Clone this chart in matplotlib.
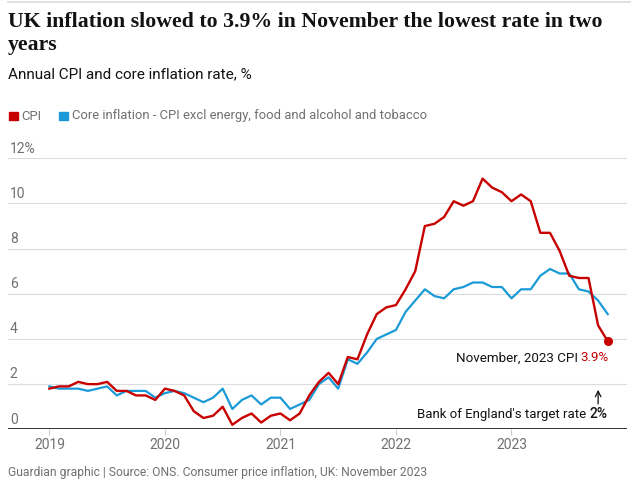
import matplotlib.pyplot as plt
from matplotlib.patches import Rectangle
from matplotlib.lines import Line2D

# monthly data, Jan 2019 - Nov 2023
years = ['2019', '2020', '2021', '2022', '2023']
cpi = [1.8, 1.9, 1.9, 2.1, 2.0, 2.0, 2.1, 1.7, 1.7, 1.5, 1.5, 1.3,
       1.8, 1.7, 1.5, 0.8, 0.5, 0.6, 1.0, 0.2, 0.5, 0.7, 0.3, 0.6,
       0.7, 0.4, 0.7, 1.5, 2.1, 2.5, 2.0, 3.2, 3.1, 4.2, 5.1, 5.4,
       5.5, 6.2, 7.0, 9.0, 9.1, 9.4, 10.1, 9.9, 10.1, 11.1, 10.7, 10.5,
       10.1, 10.4, 10.1, 8.7, 8.7, 7.9, 6.8, 6.7, 6.7, 4.6, 3.9]
core = [1.9, 1.8, 1.8, 1.8, 1.7, 1.8, 1.9, 1.5, 1.7, 1.7, 1.7, 1.4,
        1.6, 1.7, 1.6, 1.4, 1.2, 1.4, 1.8, 0.9, 1.3, 1.5, 1.1, 1.4,
        1.4, 0.9, 1.1, 1.3, 2.0, 2.3, 1.8, 3.1, 2.9, 3.4, 4.0, 4.2,
        4.4, 5.2, 5.7, 6.2, 5.9, 5.8, 6.2, 6.3, 6.5, 6.5, 6.3, 6.3,
        5.8, 6.2, 6.2, 6.8, 7.1, 6.9, 6.9, 6.2, 6.1, 5.7, 5.1]
yticks = [0, 2, 4, 6, 8, 10, 12]
months = list(range(len(cpi)))

RED = '#c70000'
BLUE = '#1a9ad6'
GREY = '#707070'
DARK = '#121212'
SANS = ['Roboto', 'DejaVu Sans']

W, H = 635, 487
fig = plt.figure(figsize=(W / 100, H / 100), dpi=100)

# axes placed so that 0 sits at y=429 and 12 at y=158 (pixels from top)
ax = fig.add_axes([8 / W, (H - 429.3) / H, (627 - 8) / W, (429.3 - 158.3) / H])
ax.set_xlim(-4.3, 60.0)
ax.set_ylim(0, 12)

for v in yticks[1:]:
    ax.axhline(v, color='#dcdcdc', lw=0.8, zorder=1)
    ax.annotate(str(v) + ('%' if v == 12 else ''), (0.003, v), xycoords=('axes fraction', 'data'),
                xytext=(0, 2), textcoords='offset points', ha='left', va='bottom',
                color=GREY, fontsize=10, family=SANS)
ax.annotate('0', (0.003, 0), xycoords=('axes fraction', 'data'),
            xytext=(0, 2), textcoords='offset points', ha='left', va='bottom',
            color=GREY, fontsize=10, family=SANS)
ax.axhline(0, color='#333333', lw=1.4, zorder=4)

ax.plot(months, core, color=BLUE, lw=1.6, zorder=2, clip_on=False)
ax.plot(months, cpi, color=RED, lw=1.7, zorder=3, clip_on=False)
ax.plot(months[-1], cpi[-1], 'o', color=RED, ms=5.5, zorder=5, clip_on=False)

for s in ax.spines.values():
    s.set_visible(False)
ax.set_yticks([])
ax.set_xticks([12 * i for i in range(len(years))])
ax.set_xticklabels(years)
ax.tick_params(axis='x', length=4, width=0.8, color='#cccccc', labelcolor=GREY,
               labelsize=10, pad=2)
for lab in ax.get_xticklabels():
    lab.set_family(SANS)

# end-point annotations
fig.canvas.draw()
r = fig.canvas.get_renderer()
t1 = ax.annotate('3.9%', (months[-1], cpi[-1]), xytext=(1, -12), textcoords='offset points',
                 ha='right', va='center', color=RED, fontsize=9.6, family=SANS)
w1 = t1.get_window_extent(r).width * 72 / 100
ax.annotate('November, 2023 CPI ', (months[-1], cpi[-1]), xytext=(1 - w1, -12),
            textcoords='offset points', ha='right', va='center', color=DARK, fontsize=9.6,
            family=SANS)

t2 = ax.annotate('2%', (months[-1], 0), xytext=(0, 11), textcoords='offset points',
                 ha='right', va='center', color=DARK, fontsize=10, family=SANS,
                 fontweight='medium')
w2 = t2.get_window_extent(r).width * 72 / 100
ax.annotate("Bank of England's target rate ", (months[-1], 0), xytext=(-w2, 11),
            textcoords='offset points', ha='right', va='center', color=DARK, fontsize=9.5,
            family=SANS)
ax.annotate('', xy=(57.0, 1.75), xytext=(57.0, 1.12),
            arrowprops=dict(arrowstyle='->', color=DARK, lw=0.9, shrinkA=0, shrinkB=0))

# header
fig.add_artist(Line2D([8 / W, 630 / W], [1 - 1.5 / H] * 2, color='#dcdcdc', lw=1.2))
fig.text(8 / W, 1 - 26.7 / H, 'UK inflation slowed to 3.9% in November the lowest rate in two',
         ha='left', va='baseline', fontsize=15.7, fontweight='bold', family='Liberation Serif',
         color=DARK)
fig.text(8 / W, 1 - 50 / H, 'years', ha='left', va='baseline', fontsize=15.7,
         fontweight='bold', family='Liberation Serif', color=DARK)
fig.text(8 / W, 1 - 78 / H, 'Annual CPI and core inflation rate, %', ha='left', va='baseline',
         fontsize=11, family=SANS, color=DARK)

# legend
fig.add_artist(Rectangle((9 / W, 1 - 120.3 / H), 9 / W, 8 / H, color=RED, transform=fig.transFigure))
fig.text(21 / W, 1 - 116 / H, 'CPI', ha='left', va='center', fontsize=9.4, family=SANS, color=GREY)
fig.add_artist(Rectangle((59 / W, 1 - 120.3 / H), 9 / W, 8 / H, color=BLUE, transform=fig.transFigure))
fig.text(72 / W, 1 - 116 / H, 'Core inflation - CPI excl energy, food and alcohol and tobacco',
         ha='left', va='center', fontsize=9.4, family=SANS, color=GREY)

# footer
fig.text(8 / W, 1 - 472.7 / H, 'Guardian graphic | Source: ONS. Consumer price inflation, UK: November 2023',
         ha='left', va='center', fontsize=8.7, family=SANS, color=GREY)

fig.savefig('out.png', dpi=100)
